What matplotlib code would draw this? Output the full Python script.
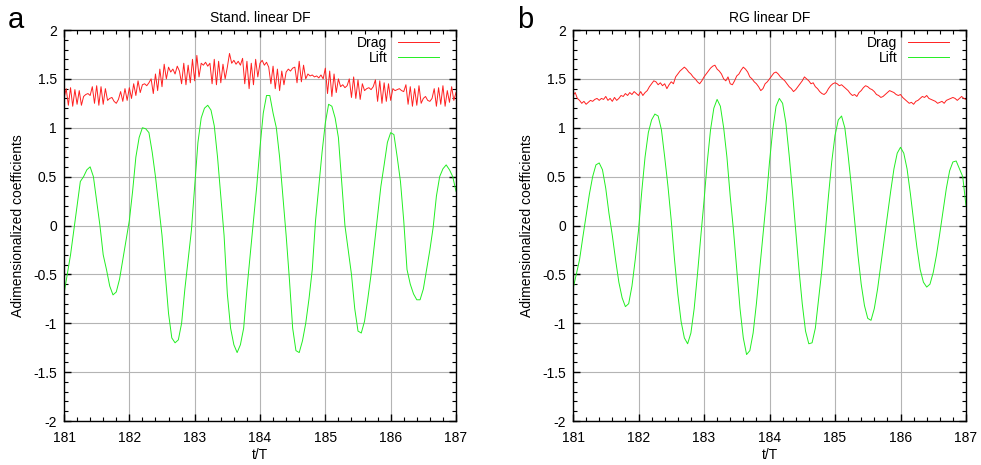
import numpy as np
import matplotlib
matplotlib.use("Agg")
import matplotlib.pyplot as plt
from matplotlib.ticker import MultipleLocator

plt.rcParams['font.family'] = ['Liberation Sans', 'DejaVu Sans']

# lift, sampled every 0.05 t/T from 181 to 187
lift_a = [
    -0.70, -0.50, -0.30, -0.05, 0.20, 0.45, 0.50, 0.57, 0.60, 0.50,
    0.25, 0.00, -0.30, -0.45, -0.62, -0.71, -0.68, -0.55, -0.35, -0.15,
    0.05, 0.35, 0.70, 0.90, 1.00, 0.99, 0.95, 0.75, 0.50, 0.20,
    -0.10, -0.50, -0.90, -1.15, -1.20, -1.17, -1.00, -0.65, -0.35, -0.05,
    0.40, 0.85, 1.10, 1.20, 1.23, 1.18, 1.02, 0.70, 0.30, -0.10,
    -0.70, -1.05, -1.22, -1.30, -1.22, -1.05, -0.65, -0.30, 0.05, 0.40,
    0.80, 1.15, 1.33, 1.33, 1.15, 1.00, 0.70, 0.30, -0.10, -0.55,
    -1.05, -1.28, -1.30, -1.18, -1.00, -0.75, -0.45, 0.05, 0.40, 0.75,
    1.05, 1.24, 1.22, 1.10, 0.90, 0.45, 0.00, -0.25, -0.50, -0.85,
    -1.08, -1.10, -0.98, -0.75, -0.50, -0.20, 0.10, 0.40, 0.62, 0.85,
    0.95, 0.93, 0.70, 0.45, 0.05, -0.45, -0.60, -0.70, -0.76, -0.76,
    -0.65, -0.45, -0.25, -0.02, 0.30, 0.50, 0.58, 0.62, 0.57, 0.50,
    0.35,
]
lift_b = [
    -0.65, -0.50, -0.35, -0.12, 0.10, 0.32, 0.50, 0.62, 0.64, 0.57,
    0.38, 0.12, -0.10, -0.35, -0.58, -0.74, -0.83, -0.80, -0.62, -0.35,
    -0.05, 0.35, 0.70, 0.95, 1.08, 1.14, 1.12, 0.98, 0.70, 0.40,
    0.05, -0.35, -0.70, -0.98, -1.15, -1.21, -1.10, -0.85, -0.50, -0.12,
    0.25, 0.65, 0.98, 1.20, 1.29, 1.22, 1.00, 0.70, 0.30, -0.05,
    -0.45, -0.85, -1.15, -1.32, -1.28, -1.10, -0.80, -0.45, -0.10, 0.25,
    0.65, 0.98, 1.22, 1.30, 1.25, 1.05, 0.72, 0.35, -0.05, -0.45,
    -0.80, -1.08, -1.21, -1.20, -1.05, -0.75, -0.45, -0.08, 0.30, 0.65,
    0.92, 1.08, 1.12, 1.00, 0.72, 0.40, 0.05, -0.30, -0.60, -0.82,
    -0.95, -0.97, -0.85, -0.65, -0.40, -0.15, 0.10, 0.35, 0.58, 0.74,
    0.80, 0.74, 0.58, 0.33, 0.05, -0.22, -0.45, -0.58, -0.63, -0.60,
    -0.48, -0.30, -0.08, 0.15, 0.38, 0.56, 0.65, 0.66, 0.58, 0.50,
    0.20,
]

# drag, sampled every 1/30 t/T from 181 to 187
drag_a = [
    1.30, 1.40, 1.23, 1.41, 1.22, 1.39, 1.24, 1.38, 1.23, 1.32, 1.34, 1.35, 1.33, 1.42, 1.25,
    1.43, 1.23, 1.42, 1.24, 1.40, 1.28, 1.30, 1.31, 1.27, 1.25, 1.29, 1.37, 1.27, 1.40, 1.28,
    1.41, 1.30, 1.45, 1.33, 1.48, 1.36, 1.44, 1.45, 1.43, 1.46, 1.50, 1.35, 1.55, 1.38, 1.60,
    1.42, 1.65, 1.50, 1.62, 1.57, 1.60, 1.55, 1.63, 1.58, 1.45, 1.66, 1.44, 1.64, 1.46, 1.70,
    1.48, 1.74, 1.52, 1.66, 1.64, 1.67, 1.63, 1.66, 1.45, 1.70, 1.44, 1.68, 1.46, 1.65, 1.50,
    1.62, 1.76, 1.66, 1.69, 1.65, 1.68, 1.64, 1.71, 1.45, 1.68, 1.40, 1.66, 1.44, 1.70, 1.52,
    1.66, 1.69, 1.64, 1.67, 1.62, 1.45, 1.63, 1.40, 1.60, 1.38, 1.58, 1.44, 1.57, 1.60, 1.58,
    1.61, 1.62, 1.46, 1.68, 1.47, 1.64, 1.50, 1.55, 1.53, 1.54, 1.52, 1.53, 1.51, 1.54, 1.50,
    1.61, 1.35, 1.58, 1.32, 1.55, 1.36, 1.50, 1.42, 1.44, 1.41, 1.43, 1.50, 1.31, 1.52, 1.30,
    1.49, 1.29, 1.45, 1.38, 1.40, 1.41, 1.39, 1.42, 1.49, 1.27, 1.48, 1.25, 1.46, 1.27, 1.45,
    1.28, 1.40, 1.38, 1.39, 1.40, 1.38, 1.37, 1.44, 1.24, 1.42, 1.22, 1.40, 1.23, 1.43, 1.25,
    1.30, 1.32, 1.28, 1.27, 1.30, 1.40, 1.22, 1.41, 1.24, 1.43, 1.22, 1.38, 1.26, 1.42, 1.28,
    1.36,
]
drag_b = [
    1.33, 1.36, 1.30, 1.28, 1.25, 1.27, 1.24, 1.26, 1.28, 1.27, 1.29, 1.30, 1.28, 1.30, 1.29,
    1.32, 1.28, 1.30, 1.27, 1.31, 1.28, 1.30, 1.33, 1.32, 1.35, 1.33, 1.36, 1.34, 1.37, 1.35,
    1.33, 1.37, 1.33, 1.36, 1.38, 1.42, 1.45, 1.48, 1.47, 1.44, 1.46, 1.43, 1.45, 1.40, 1.44,
    1.47, 1.45, 1.52, 1.55, 1.58, 1.60, 1.62, 1.60, 1.57, 1.55, 1.52, 1.50, 1.47, 1.45, 1.48,
    1.52, 1.55, 1.58, 1.61, 1.63, 1.64, 1.60, 1.58, 1.55, 1.50, 1.48, 1.52, 1.45, 1.44, 1.48,
    1.53, 1.55, 1.59, 1.62, 1.60, 1.57, 1.52, 1.50, 1.47, 1.45, 1.42, 1.38, 1.40, 1.45, 1.47,
    1.50, 1.53, 1.56, 1.57, 1.55, 1.52, 1.50, 1.48, 1.45, 1.42, 1.40, 1.37, 1.39, 1.42, 1.45,
    1.48, 1.52, 1.50, 1.48, 1.45, 1.46, 1.42, 1.40, 1.37, 1.35, 1.34, 1.36, 1.40, 1.43, 1.45,
    1.46, 1.45, 1.43, 1.44, 1.42, 1.40, 1.38, 1.35, 1.33, 1.34, 1.32, 1.36, 1.38, 1.41, 1.43,
    1.42, 1.40, 1.39, 1.37, 1.34, 1.33, 1.31, 1.32, 1.34, 1.36, 1.38, 1.37, 1.36, 1.34, 1.33,
    1.34, 1.31, 1.29, 1.27, 1.25, 1.26, 1.24, 1.27, 1.28, 1.30, 1.32, 1.31, 1.33, 1.30, 1.29,
    1.28, 1.27, 1.25, 1.26, 1.27, 1.25, 1.28, 1.29, 1.30, 1.31, 1.30, 1.28, 1.30, 1.32, 1.30,
    1.29,
]

titles = ['Stand. linear DF', 'RG linear DF']
letters = ['a', 'b']

t_lift = np.linspace(181, 187, len(lift_a))
t_drag = np.linspace(181, 187, len(drag_a))

fig = plt.figure(figsize=(9.81, 4.65), dpi=100)
ax_a = fig.add_axes([64/981, 44/465, 392/981, 391/465])
ax_b = fig.add_axes([573/981, 44/465, 393/981, 391/465])

for ax, drag, lift, title in zip([ax_a, ax_b], [drag_a, drag_b], [lift_a, lift_b], titles):
    ax.plot(t_drag, drag, color='#ff2020', lw=0.7, label='Drag')
    ax.plot(t_lift, lift, color='#22ee22', lw=0.7, label='Lift')
    ax.set_xlim(181, 187)
    ax.set_ylim(-2, 2)
    ax.xaxis.set_major_locator(MultipleLocator(1))
    ax.xaxis.set_minor_locator(MultipleLocator(0.2))
    ax.yaxis.set_major_locator(MultipleLocator(0.5))
    ax.yaxis.set_minor_locator(MultipleLocator(0.1))
    ax.yaxis.set_major_formatter(plt.FuncFormatter(lambda v, p: f'{v:g}'))
    ax.tick_params(which='both', direction='in', top=True, right=True, labelsize=10)
    ax.tick_params(which='major', length=5, width=1)
    ax.tick_params(which='minor', length=3, width=0.8)
    ax.tick_params(axis='x', pad=7)
    ax.tick_params(axis='y', pad=5)
    ax.grid(True, which='major', color='#b4b4b4', lw=0.8)
    for s in ax.spines.values():
        s.set_linewidth(1.0)
    ax.set_title(title, fontsize=10, pad=6)
    ax.set_xlabel('t/T', fontsize=10, labelpad=2)
    ax.set_ylabel('Adimensionalized coefficients', fontsize=10, labelpad=6)
    ax.legend(loc='upper right', bbox_to_anchor=(1 - 11/392, 1.0),
              frameon=False, markerfirst=False, fontsize=10,
              handlelength=2.9, handletextpad=0.8, labelspacing=0.05,
              borderaxespad=0.15, borderpad=0.3)

fig.text(8/981, 1 - 20/465, letters[0], fontsize=21, va='center', ha='left')
fig.text(517/981, 1 - 20/465, letters[1], fontsize=21, va='center', ha='left')

fig.savefig('out.png', dpi=100)
